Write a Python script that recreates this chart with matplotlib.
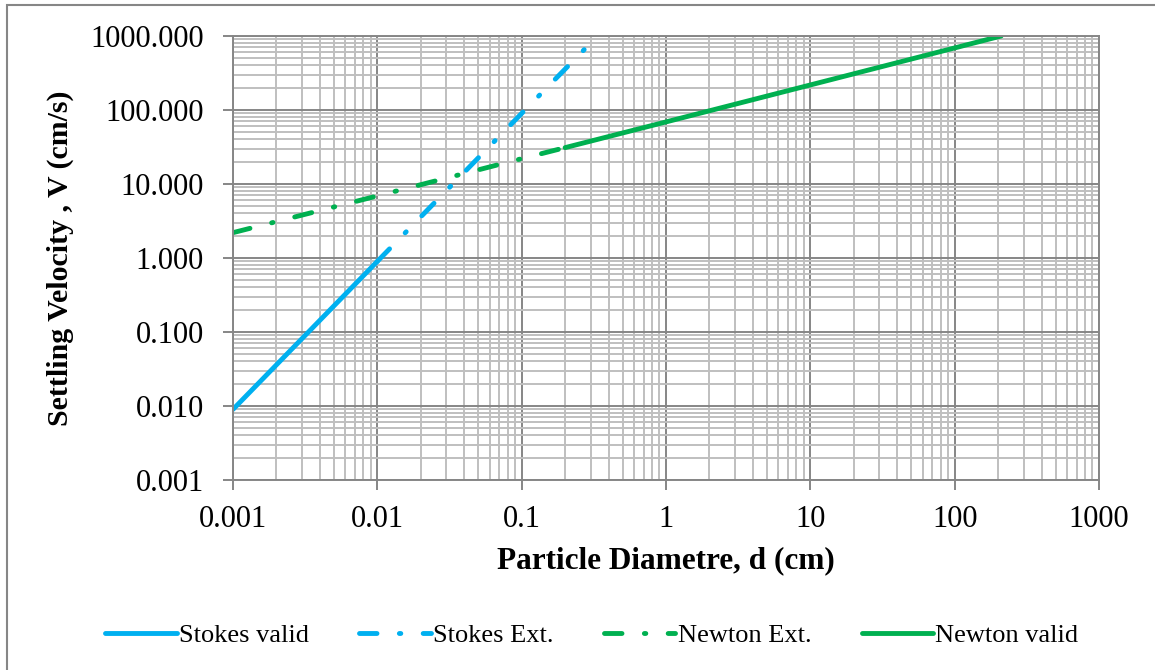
import matplotlib
matplotlib.use("Agg")
import matplotlib.pyplot as plt
import matplotlib.ticker as ticker
from matplotlib.patches import Rectangle

plt.rcParams['font.family'] = ['Liberation Serif', 'DejaVu Serif']

# values (d in cm, V in cm/s)
stokes_valid_d = [0.001, 0.002, 0.005, 0.01]
stokes_valid_v = [0.009, 0.036, 0.225, 0.9]

stokes_ext_d = [0.01, 0.03, 0.1, 0.3]
stokes_ext_v = [0.9, 8.1, 90.0, 800.0]

newton_ext_d = [0.001, 0.01, 0.1, 0.2]
newton_ext_v = [2.2, 6.9, 22.0, 31.0]

newton_valid_d = [0.2, 1, 10, 100, 210]
newton_valid_v = [31.0, 69.0, 218.0, 690.0, 1000.0]

x_ticks = [0.001, 0.01, 0.1, 1, 10, 100, 1000]
x_tick_labels = ['0.001', '0.01', '0.1', '1', '10', '100', '1000']
y_ticks = [0.001, 0.01, 0.1, 1, 10, 100, 1000]

blue = '#00B0F0'
green = '#00B050'
dashdot = (0, (3.6, 4.6, 0.3, 4.6))

fig = plt.figure(figsize=(11.55, 6.7), dpi=100)
ax = fig.add_axes([233/1155, 1 - 480/670, (1099-233)/1155, (480-36)/670])

lw = 3.5
ax.plot(stokes_valid_d, stokes_valid_v, color=blue, lw=lw, label='Stokes valid',
        solid_capstyle='round')
ax.plot(stokes_ext_d, stokes_ext_v, color=blue, lw=lw, linestyle=dashdot,
        dash_capstyle='round', label='Stokes Ext.')
ax.plot(newton_ext_d, newton_ext_v, color=green, lw=lw, linestyle=dashdot,
        dash_capstyle='round', label='Newton Ext.')
ax.plot(newton_valid_d, newton_valid_v, color=green, lw=lw, label='Newton valid',
        solid_capstyle='round')

ax.set_xscale('log')
ax.set_yscale('log')
ax.set_xlim(0.001, 1000)
ax.set_ylim(0.001, 1000)

ax.set_xticks(x_ticks)
ax.set_xticklabels(x_tick_labels)
ax.set_yticks(y_ticks)
ax.yaxis.set_major_formatter(ticker.FormatStrFormatter('%.3f'))
ax.xaxis.set_minor_locator(ticker.LogLocator(base=10, subs=range(2, 10), numticks=20))
ax.yaxis.set_minor_locator(ticker.LogLocator(base=10, subs=range(2, 10), numticks=20))
ax.xaxis.set_minor_formatter(ticker.NullFormatter())
ax.yaxis.set_minor_formatter(ticker.NullFormatter())

ax.grid(True, which='minor', color='#BFBFBF', lw=1.4)
ax.grid(True, which='major', color='#868686', lw=1.4)
ax.set_axisbelow(True)
for s in ax.spines.values():
    s.set_color('#868686')
    s.set_linewidth(1.4)

ax.tick_params(which='major', direction='out', length=7, width=1.4, color='#868686',
               labelsize=22)
ax.tick_params(axis='y', which='major', pad=14)
ax.tick_params(axis='x', which='major', pad=11)
ax.tick_params(which='minor', length=0)

ax.set_xlabel('Particle Diametre, d (cm)', fontsize=22.5, fontweight='bold', labelpad=9)
ax.set_ylabel('Settling Velocity , V (cm/s)', fontsize=21.5, fontweight='bold', labelpad=12)

fig.legend(loc='center', bbox_to_anchor=(592/1155, 1 - 635/670), ncol=4, frameon=False,
           fontsize=19, handlelength=2.7, handletextpad=0.1, columnspacing=1.9)

fig.patches.append(Rectangle((7/1155, -0.1), 1.2, 1 - 5/670 + 0.1,
                             transform=fig.transFigure, fill=False,
                             edgecolor='#868686', lw=1.5))

fig.savefig('out.png', dpi=100)
